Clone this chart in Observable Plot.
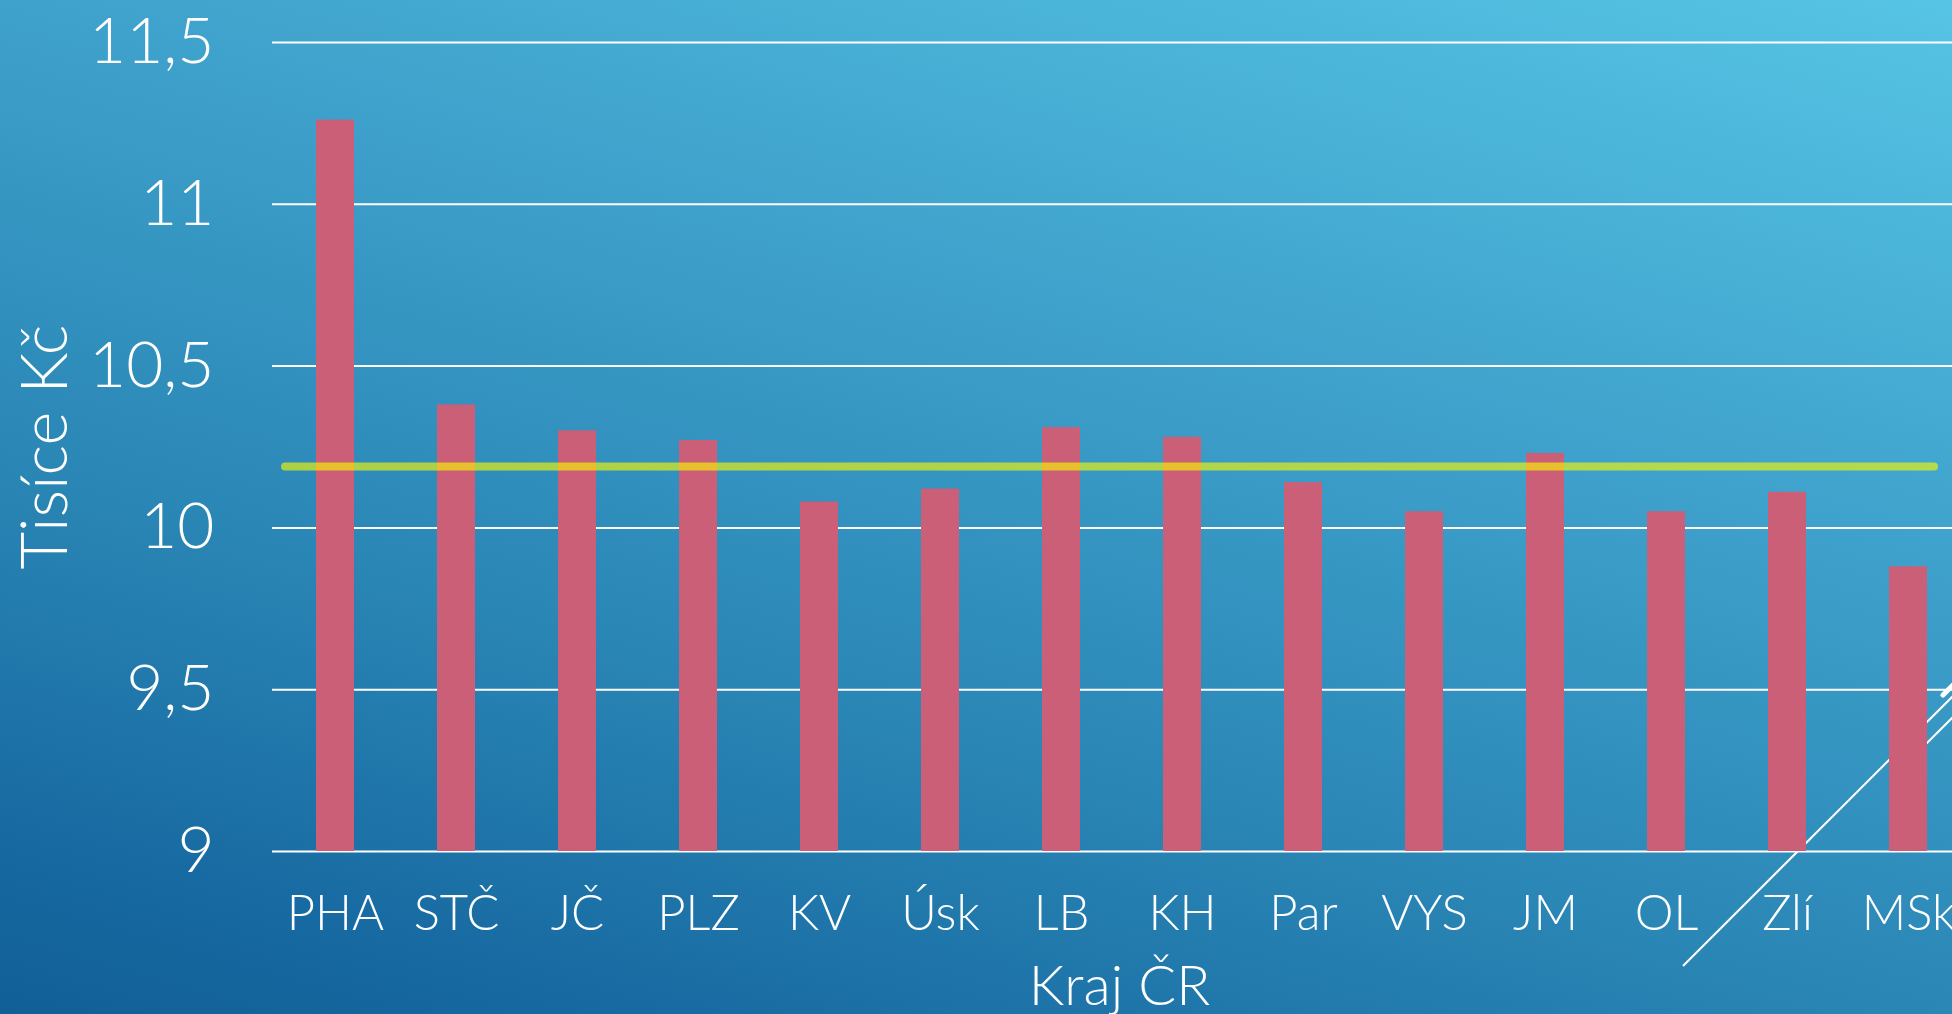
<!DOCTYPE html>
<html>
<head>
<meta charset="utf-8">
<script src="https://cdn.jsdelivr.net/npm/d3@7"></script>
<script src="https://cdn.jsdelivr.net/npm/@observablehq/plot@0.6"></script>
<style>
  html, body { margin: 0; padding: 0; }
  body {
    width: 1952px; height: 1014px; overflow: hidden; position: relative;
    background: linear-gradient(196deg, #56c4e4 0%, #3fa2cc 35%, #2a86b5 65%, #1668a0 90%, #125f97 100%);
    font-family: "Lato", "Open Sans", sans-serif;
  }
  #decor { position: absolute; left: 0; top: 0; z-index: 0; }
  #chart { position: absolute; left: 0; top: 0; z-index: 1; width: 1975px; }
  #chart svg { max-width: none !important; }
</style>
</head>
<body>
<svg id="decor" width="1952" height="1014">
  <line x1="1683" y1="966" x2="2003" y2="646" stroke="white" stroke-width="2"/>
  <line x1="1900" y1="770" x2="2000" y2="670" stroke="white" stroke-width="2"/>
  <line x1="1943" y1="695" x2="1990" y2="648" stroke="white" stroke-width="5" stroke-linecap="round"/>
</svg>
<div id="chart"></div>
<script>
const regions = ["PHA", "STČ", "JČ", "PLZ", "KV", "Úsk", "LB", "KH", "Par", "VYS", "JM", "OL", "Zlí", "MSk"];
const wages = [11.26, 10.38, 10.30, 10.27, 10.08, 10.12, 10.31, 10.28, 10.14, 10.05, 10.23, 10.05, 10.11, 9.88];
const average = [10.19];
const yDomain = [9, 11.5];
const yTicks = [9, 9.5, 10, 10.5, 11, 11.5];
const xTitle = ["Kraj ČR"];
const yTitle = ["Tisíce Kč"];

const data = regions.map((k, i) => ({kraj: k, mzda: wages[i]}));

const chart = Plot.plot({
  width: 1975,
  height: 1014,
  marginLeft: 272,
  marginRight: 5,
  marginTop: 42,
  marginBottom: 163,
  style: {background: "transparent", color: "white", fontFamily: "Lato, 'Open Sans', sans-serif", fontWeight: 300, overflow: "visible", maxWidth: "none"},
  x: {domain: regions, paddingInner: 0.687, paddingOuter: 0.3435},
  y: {domain: yDomain},
  marks: [
    Plot.gridY(yTicks, {stroke: "white", strokeOpacity: 1, strokeWidth: 2}),
    Plot.barY(data, {x: "kraj", y1: yDomain[0], y2: "mzda", fill: "#cb5f77"}),
    Plot.ruleY(average, {stroke: "#fafa00", strokeOpacity: 0.62, strokeWidth: 8, strokeLinecap: "round", insetLeft: 13, insetRight: 36}),
    Plot.axisY(yTicks, {tickSize: 0, tickPadding: 58, fontSize: 64, label: null, tickFormat: d => String(d).replace(".", ",")}),
    Plot.axisX({tickSize: 0, tickPadding: 44, fontSize: 49, label: null}),
    Plot.text(yTitle, {text: d => d, frameAnchor: "left", dx: -226, rotate: -90, textAnchor: "middle", lineAnchor: "middle", fontSize: 65}),
    Plot.text(xTitle, {text: d => d, frameAnchor: "bottom", dx: -2, dy: 136, textAnchor: "middle", lineAnchor: "middle", fontSize: 56})
  ]
});
document.getElementById("chart").appendChild(chart);
</script>
</body>
</html>
